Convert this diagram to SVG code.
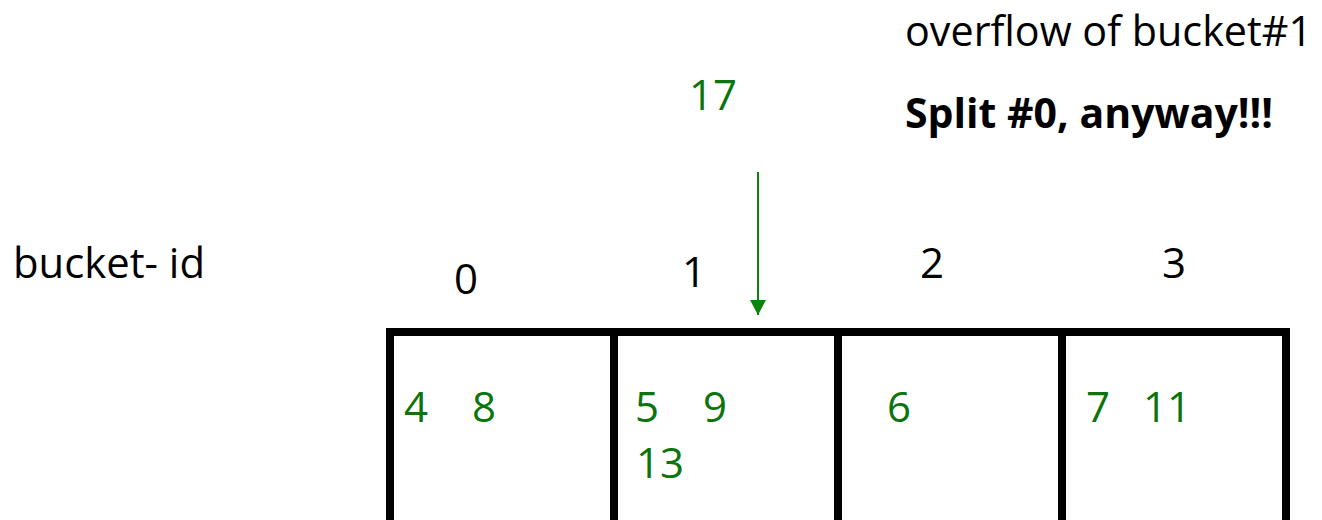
<svg xmlns="http://www.w3.org/2000/svg" width="1322" height="520" viewBox="0 0 1322 520">
<style>
text{font-family:"Open Sans","Noto Sans","Liberation Sans",sans-serif;font-size:42px}
.k{fill:#000}
.g{fill:#0b740b}
.b{font-weight:bold}
.wall{stroke:#000;stroke-width:8;fill:none}
.conn{stroke:#0a840a;stroke-width:2;fill:none}
</style>
<defs>
<marker id="ah" markerUnits="userSpaceOnUse" markerWidth="15" markerHeight="16" refX="15" refY="8" orient="auto" viewBox="0 0 15 16">
<path d="M0,0 L15,8 L0,16 Z" fill="#0a840a"/>
</marker>
</defs>
<rect width="1322" height="520" fill="#fff"/>
<g id="title">
<text class="k" x="905" y="46" textLength="407" lengthAdjust="spacingAndGlyphs">overflow of bucket#1</text>
<text class="k b" x="905" y="128" textLength="368" lengthAdjust="spacingAndGlyphs">Split #0, anyway!!!</text>
</g>
<g id="label-bucket-id">
<text class="k" x="13" y="278" textLength="192" lengthAdjust="spacingAndGlyphs">bucket- id</text>
</g>
<g id="new-key">
<text class="g" x="689" y="110">17</text>
</g>
<g id="bucket-0">
<text class="k" x="454" y="294">0</text>
<text class="g" x="404" y="422">4</text>
<text class="g" x="472" y="422">8</text>
</g>
<g id="bucket-1">
<text class="k" x="682" y="287">1</text>
<text class="g" x="635" y="422">5</text>
<text class="g" x="703" y="422">9</text>
<text class="g" x="636" y="478">13</text>
</g>
<g id="bucket-2">
<text class="k" x="920" y="278">2</text>
<text class="g" x="887" y="422">6</text>
</g>
<g id="bucket-3">
<text class="k" x="1162" y="278">3</text>
<text class="g" x="1086" y="422">7</text>
<text class="g" x="1143" y="422">11</text>
</g>
<g id="buckets">
<line class="wall" x1="386" y1="332" x2="1290" y2="332"/>
<line class="wall" x1="390" y1="328" x2="390" y2="524"/>
<line class="wall" x1="614" y1="328" x2="614" y2="524"/>
<line class="wall" x1="838" y1="328" x2="838" y2="524"/>
<line class="wall" x1="1062" y1="328" x2="1062" y2="524"/>
<line class="wall" x1="1286" y1="328" x2="1286" y2="524"/>
</g>
<g id="connectors">
<line class="conn" x1="758" y1="172" x2="758" y2="315" marker-end="url(#ah)"/>
</g>
</svg>
